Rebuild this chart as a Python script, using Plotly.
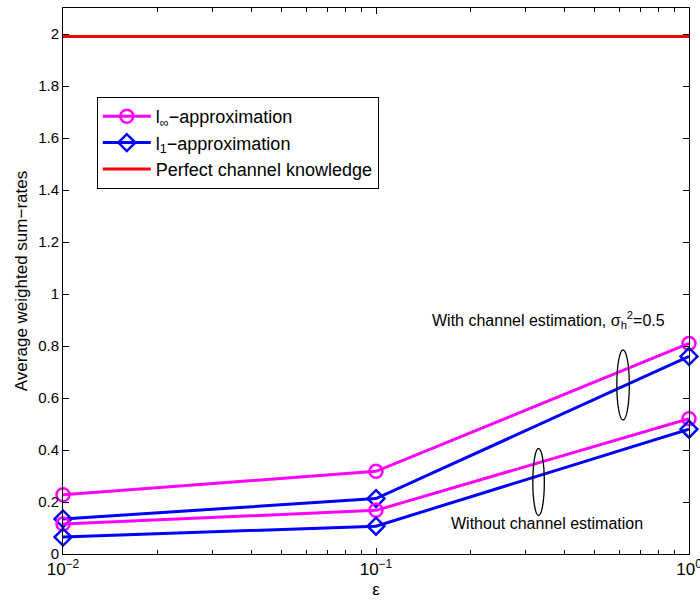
import plotly.graph_objects as go

eps = [0.01, 0.1, 1.0]
linf_with = [0.228, 0.318, 0.81]
l1_with = [0.135, 0.213, 0.76]
linf_without = [0.115, 0.168, 0.52]
l1_without = [0.065, 0.107, 0.48]
perfect = [1.99, 1.99, 1.99]
x_tickvals = [0.01, 0.1, 1.0]
x_ticktext = ["10<sup>−2</sup>", "10<sup>−1</sup>", "10<sup>0</sup>"]
x_minor_ticks = [0.02, 0.03, 0.04, 0.05, 0.06, 0.07, 0.08, 0.09,
                 0.2, 0.3, 0.4, 0.5, 0.6, 0.7, 0.8, 0.9]

MAG = "#FF00FF"
BLUE = "#0000FF"
RED = "#FF0000"
FONT = "Liberation Sans, Arial, sans-serif"

fig = go.Figure()

def add(y, color, symbol, name, show):
    fig.add_trace(go.Scatter(
        x=eps, y=y, mode="lines+markers", name=name, showlegend=show,
        line=dict(color=color, width=3),
        marker=dict(symbol=symbol, size=13, color=color,
                    line=dict(color=color, width=2.5)),
        cliponaxis=False))

add(linf_with, MAG, "circle-open", "l<sub>∞</sub>−approximation", True)
add(l1_with, BLUE, "diamond-open", "l<sub>1</sub>−approximation", True)
fig.add_trace(go.Scatter(x=eps, y=perfect, mode="lines", name="Perfect channel knowledge",
                         line=dict(color=RED, width=3)))
add(linf_without, MAG, "circle-open", "l∞", False)
add(l1_without, BLUE, "diamond-open", "l1", False)

# invisible trace to carry the minor-tick axis
fig.add_trace(go.Scatter(x=eps, y=perfect, xaxis="x2", mode="lines", showlegend=False,
                         line=dict(width=0), hoverinfo="skip", opacity=0))

# ellipses
ellipses = [(0.588, 0.65, 25, 70), (0.317, 0.277, 23, 67)]
for xc, yc, w, h in ellipses:
    fig.add_shape(type="circle", xref="x", yref="y", xsizemode="pixel", ysizemode="pixel",
                  xanchor=xc, yanchor=yc, x0=-w/2, x1=w/2, y0=-h/2, y1=h/2,
                  line=dict(color="black", width=1.3))

fig.add_annotation(x=-0.448, y=0.9, xref="x", yref="y", showarrow=False,
                   text="With channel estimation, σ<sub>h</sub><sup>2</sup>=0.5",
                   font=dict(family=FONT, size=16, color="black"))
fig.add_annotation(x=-0.455, y=0.119, xref="x", yref="y", showarrow=False,
                   text="Without channel estimation",
                   font=dict(family=FONT, size=16, color="black"))

fig.update_layout(
    width=700, height=605,
    margin=dict(l=63, r=11, t=8, b=51),
    paper_bgcolor="white", plot_bgcolor="white",
    font=dict(family=FONT, size=14, color="black"),
    legend=dict(x=0.054, y=0.837, xanchor="left", yanchor="top",
                bordercolor="black", borderwidth=1, bgcolor="white",
                font=dict(family=FONT, size=18), tracegroupgap=0, itemwidth=48),
    xaxis=dict(type="log", range=[-2, 0], tickvals=x_tickvals, ticktext=x_ticktext,
               automargin=False,
               showline=True, linecolor="black", linewidth=1, mirror="ticks",
               ticks="inside", ticklen=6, tickcolor="black", ticklabeloverflow="allow",
               showgrid=False, zeroline=False,
               title=dict(text="ε", font=dict(size=17), standoff=4),
               tickfont=dict(size=17)),
    xaxis2=dict(type="log", range=[-2, 0], overlaying="x", side="bottom",
                tickvals=x_minor_ticks, showticklabels=False, automargin=False,
                ticks="inside", ticklen=4, tickcolor="black", mirror="ticks",
                showline=True, linecolor="black", showgrid=False, zeroline=False),
    yaxis=dict(range=[0, 2.1], dtick=0.2, showline=True, linecolor="black", linewidth=1,
               mirror="ticks", ticks="inside", ticklen=6, tickcolor="black",
               showgrid=False, zeroline=False, tickformat="~g", automargin=False,
               title=dict(text="Average weighted sum−rates", font=dict(size=17), standoff=6),
               tickfont=dict(size=15)),
)

fig.write_html("out.html")
